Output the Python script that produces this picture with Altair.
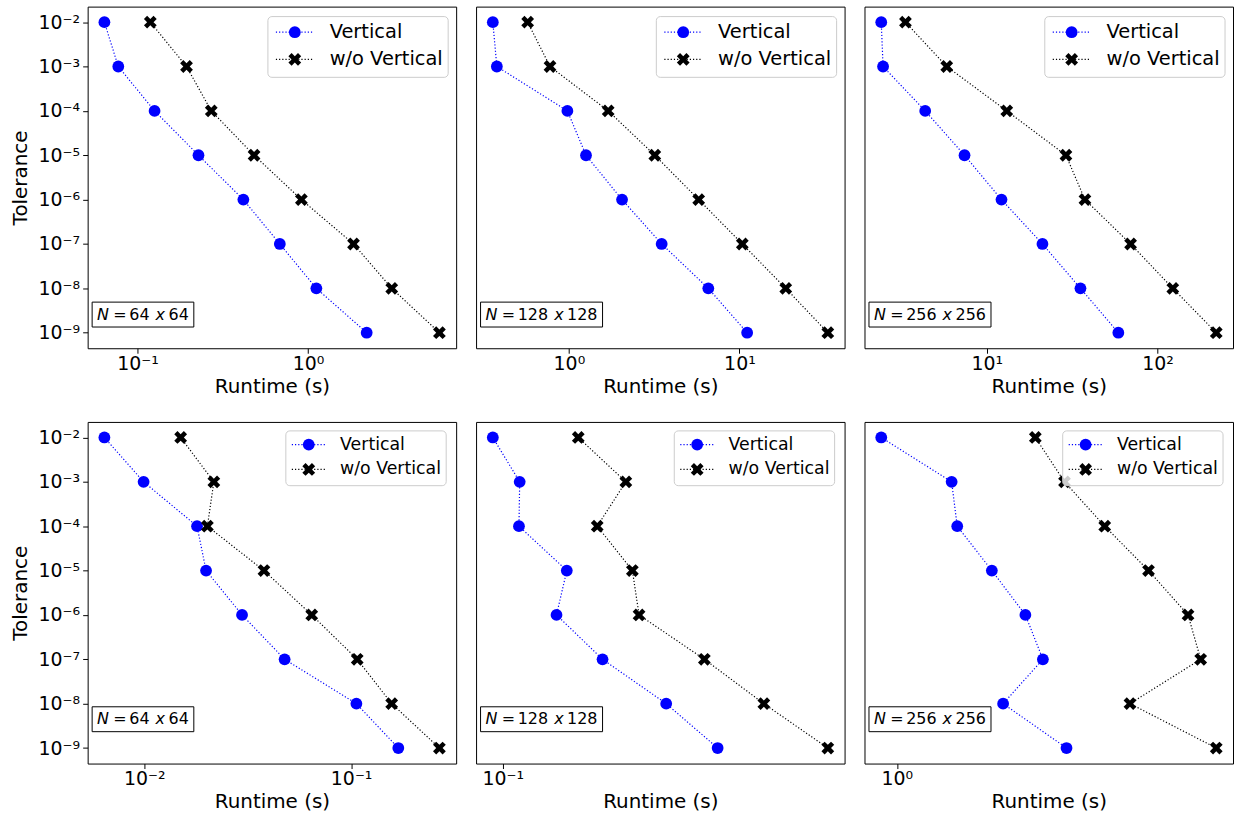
import altair as alt
import numpy as np
import pandas as pd

# Tolerance levels (y) shared by every panel
tolerances = [1e-2, 1e-3, 1e-4, 1e-5, 1e-6, 1e-7, 1e-8, 1e-9]
series_names = ["Vertical", "w/o Vertical"]
series_colors = ["#0000ff", "#000000"]
grid_sizes = ["64", "128", "256"]

# Runtime (s) for each tolerance, top row
top_vertical_64 = [0.064, 0.0772, 0.126, 0.228, 0.418, 0.684, 1.12, 2.21]
top_without_64 = [0.119, 0.194, 0.271, 0.483, 0.915, 1.85, 3.10, 5.90]
top_vertical_128 = [0.358, 0.378, 0.98, 1.26, 2.05, 3.50, 6.57, 11.1]
top_without_128 = [0.573, 0.775, 1.70, 3.19, 5.77, 10.4, 18.7, 33.0]
top_vertical_256 = [2.41, 2.47, 4.36, 7.41, 12.2, 21.2, 35.4, 59.0]
top_without_256 = [3.34, 5.83, 13.1, 29.1, 37.6, 69.6, 123.0, 221.0]

# Runtime (s) for each tolerance, bottom row
bot_vertical_64 = [0.00642, 0.00993, 0.0180, 0.0199, 0.0297, 0.0477, 0.106, 0.169]
bot_without_64 = [0.0150, 0.0217, 0.0202, 0.0379, 0.0645, 0.107, 0.157, 0.267]
bot_vertical_128 = [0.0940, 0.1112, 0.1107, 0.1493, 0.140, 0.1867, 0.278, 0.3835]
bot_without_128 = [0.1604, 0.216, 0.1806, 0.225, 0.2346, 0.353, 0.512, 0.764]
bot_vertical_256 = [0.907, 1.408, 1.458, 1.81, 2.232, 2.49, 1.942, 2.886]
bot_without_256 = [2.375, 2.85, 3.664, 4.817, 6.166, 6.673, 4.290, 7.355]

FONT = "DejaVu Sans"
PLOT_W, PLOT_H = 370, 343
CIRCLE_SIZE = 140
X_SIZE = 165
DOT = [1.2, 2]
TICK_FONT = 19

# filled "X" marker, unit box coordinates
X_PATH = "M-0.5,-1L0,-0.5L0.5,-1L1,-0.5L0.5,0L1,0.5L0.5,1L0,0.5L-0.5,1L-1,0.5L-0.5,0L-1,-0.5Z"
MARKER_SHAPES = ["circle", X_PATH]
MARKER_SIZES = [CIRCLE_SIZE, X_SIZE]

# tick labels as 10 with a superscript exponent
_sup = {"-": "⁻", "0": "⁰", "1": "¹", "2": "²", "3": "³", "4": "⁴",
        "5": "⁵", "6": "⁶", "7": "⁷", "8": "⁸", "9": "⁹"}
_expr = "toString(round(log(datum.value) / LN10))"
for k, v in _sup.items():
    _expr = f"replace({_expr}, '{k}', '{v}')"
POW10_LABEL = "'10' + " + _expr

Y_DOMAIN = [10 ** -9.35, 10 ** -1.65]
ONE = alt.Data(values=[{}])


def log_domain(values):
    lo, hi = np.log10(min(values)), np.log10(max(values))
    m = 0.05 * (hi - lo)
    return [10 ** (lo - m), 10 ** (hi + m)]


def annotation(grid, row):
    """Boxed 'N = g x g' label in the lower-left corner."""
    top = 296.7 if row == 0 else 286.0
    h = 25
    cy = top + h / 2
    x0 = 9.5
    w_num = len(grid) * 10.2
    x_pos = x0 + 32.3 + w_num + 6
    n2_pos = x_pos + 13
    pieces = [
        ("N", x0, True),
        ("=", x0 + 16.3, False),
        (grid, x0 + 32.3, False),
        ("x", x_pos, True),
        (grid, n2_pos, False),
    ]
    right = n2_pos + w_num + 5
    box = alt.Chart(ONE).mark_rect(fill="white", stroke="black", strokeWidth=1).encode(
        x=alt.value(x0 - 5), x2=alt.value(right), y=alt.value(top), y2=alt.value(top + h)
    )
    texts = [
        alt.Chart(ONE).mark_text(
            text=t, align="left", baseline="middle", fontSize=16, font=FONT,
            fontStyle="italic" if it else "normal", color="black",
        ).encode(x=alt.value(px), y=alt.value(cy))
        for t, px, it in pieces
    ]
    return [box] + texts


def legend_layers(row):
    """Framed key in the upper-right corner: dotted segment, marker, label."""
    if row == 0:
        bx0, bx1, by0, by1 = 181, 362, 10, 71
        ys = [25.7, 53.0]
        lx0, lx1, mx, tx, fs = 189, 227, 208, 243, 19.5
    else:
        bx0, bx1, by0, by1 = 199, 360, 9, 64
        ys = [22.7, 47.7]
        lx0, lx1, mx, tx, fs = 205, 240, 222, 253.5, 17.4
    frame = alt.Chart(ONE).mark_rect(
        fill="white", fillOpacity=0.8, stroke="#cccccc", strokeWidth=1, cornerRadius=4
    ).encode(x=alt.value(bx0), x2=alt.value(bx1), y=alt.value(by0), y2=alt.value(by1))
    layers = [frame]
    for name, color, shape, size, yy in zip(series_names, series_colors, MARKER_SHAPES, MARKER_SIZES, ys):
        layers.append(alt.Chart(ONE).mark_rule(color=color, strokeDash=DOT, strokeWidth=1.2).encode(
            x=alt.value(lx0), x2=alt.value(lx1), y=alt.value(yy)))
        layers.append(alt.Chart(ONE).mark_point(
            shape=shape, filled=True, size=size, color=color, opacity=1, strokeWidth=0
        ).encode(x=alt.value(mx), y=alt.value(yy)))
        layers.append(alt.Chart(ONE).mark_text(
            text=name, align="left", baseline="middle", fontSize=fs, font=FONT, color="black"
        ).encode(x=alt.value(tx), y=alt.value(yy)))
    return layers


def panel(vertical, without, grid, row, col):
    df = pd.DataFrame({
        "tol": tolerances * 2,
        "runtime": vertical + without,
        "series": [series_names[0]] * 8 + [series_names[1]] * 8,
        "step": list(range(8)) * 2,
    })
    xdom = log_domain(df["runtime"])
    lo_k = int(np.floor(np.log10(xdom[0])))
    hi_k = int(np.ceil(np.log10(xdom[1])))
    decades = [10.0 ** k for k in range(lo_k, hi_k + 1) if xdom[0] <= 10.0 ** k <= xdom[1]]

    x = alt.X("runtime:Q",
              scale=alt.Scale(type="log", domain=xdom, nice=False),
              axis=alt.Axis(values=decades, labelExpr=POW10_LABEL, title="Runtime (s)",
                            grid=False, domain=False, tickSize=5, tickColor="black",
                            labelFontSize=TICK_FONT, labelPadding=1, titleFontSize=20,
                            titlePadding=3, titleFontWeight="normal"))
    if col == 0:
        yaxis = alt.Axis(values=tolerances, labelExpr=POW10_LABEL, title="Tolerance",
                         grid=False, domain=False, tickSize=5, tickColor="black",
                         labelFontSize=TICK_FONT, labelPadding=3, titleFontSize=20,
                         titleFontWeight="normal", titleX=-67, titleBaseline="middle")
    else:
        yaxis = None
    y = alt.Y("tol:Q", scale=alt.Scale(type="log", domain=Y_DOMAIN, nice=False), axis=yaxis)

    base = alt.Chart(df)
    lines = base.mark_line(strokeDash=DOT, strokeWidth=1.2).encode(
        x=x, y=y,
        color=alt.Color("series:N", scale=alt.Scale(domain=series_names, range=series_colors), legend=None),
        order="step:Q",
    )
    markers = [
        base.transform_filter(alt.datum.series == name).mark_point(
            shape=shape, filled=True, size=size, color=color, opacity=1, strokeWidth=0
        ).encode(x=x, y=y)
        for name, color, shape, size in zip(series_names, series_colors, MARKER_SHAPES, MARKER_SIZES)
    ]
    return alt.layer(lines, *markers, *annotation(grid, row), *legend_layers(row)).properties(
        width=PLOT_W, height=PLOT_H
    )


top = alt.hconcat(
    panel(top_vertical_64, top_without_64, grid_sizes[0], 0, 0),
    panel(top_vertical_128, top_without_128, grid_sizes[1], 0, 1),
    panel(top_vertical_256, top_without_256, grid_sizes[2], 0, 2),
    spacing=18,
)
bottom = alt.hconcat(
    panel(bot_vertical_64, bot_without_64, grid_sizes[0], 1, 0),
    panel(bot_vertical_128, bot_without_128, grid_sizes[1], 1, 1),
    panel(bot_vertical_256, bot_without_256, grid_sizes[2], 1, 2),
    spacing=18,
)

chart = alt.vconcat(top, bottom, spacing=24).properties(
    padding={"left": 10, "top": 4, "right": 0, "bottom": 0},
    background="white",
).configure_view(
    stroke="black", strokeWidth=1
).configure_axis(
    labelFont=FONT, titleFont=FONT, labelColor="black", titleColor="black"
)

chart.save("out.html", embed_options={"renderer": "svg", "actions": False})
